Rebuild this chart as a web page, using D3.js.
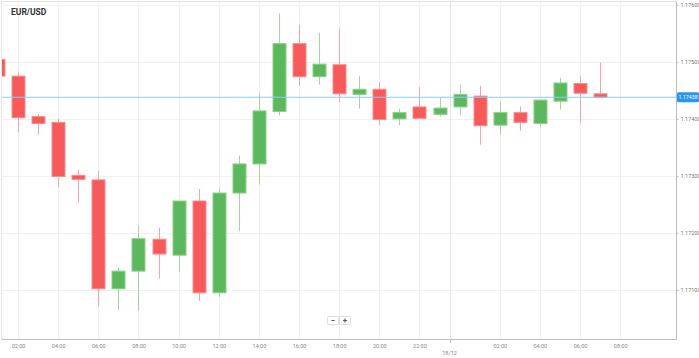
<!DOCTYPE html>
<html>
<head>
<meta charset="utf-8">
<script src="https://cdn.jsdelivr.net/npm/d3@7"></script>
<style>
  html, body { margin: 0; padding: 0; background: #fff; }
  svg { display: block; font-family: Roboto, "Noto Sans", sans-serif; }
</style>
</head>
<body>
<svg id="chart" width="699" height="358"></svg>
<script>
const times = [
  "2017-12-17T01:00Z","2017-12-17T02:00Z","2017-12-17T03:00Z","2017-12-17T04:00Z","2017-12-17T05:00Z",
  "2017-12-17T06:00Z","2017-12-17T07:00Z","2017-12-17T08:00Z","2017-12-17T09:00Z","2017-12-17T10:00Z",
  "2017-12-17T11:00Z","2017-12-17T12:00Z","2017-12-17T13:00Z","2017-12-17T14:00Z","2017-12-17T15:00Z",
  "2017-12-17T16:00Z","2017-12-17T17:00Z","2017-12-17T18:00Z","2017-12-17T19:00Z","2017-12-17T20:00Z",
  "2017-12-17T21:00Z","2017-12-17T22:00Z","2017-12-17T23:00Z","2017-12-18T00:00Z","2017-12-18T01:00Z",
  "2017-12-18T02:00Z","2017-12-18T03:00Z","2017-12-18T04:00Z","2017-12-18T05:00Z","2017-12-18T06:00Z",
  "2017-12-18T07:00Z"
];
const open = [1.17504,1.17475,1.17404,1.17394,1.17301,1.17293,1.17102,1.17133,1.17189,1.17161,
  1.17256,1.17095,1.17270,1.17321,1.17413,1.17532,1.17474,1.17495,1.17443,1.17452,
  1.17400,1.17421,1.17408,1.17421,1.17440,1.17389,1.17411,1.17392,1.17431,1.17462,1.17444];
const high = [1.17506,1.17483,1.17409,1.17400,1.17311,1.17309,1.17139,1.17214,1.17209,1.17256,
  1.17277,1.17279,1.17336,1.17446,1.17585,1.17565,1.17551,1.17558,1.17475,1.17465,
  1.17418,1.17456,1.17437,1.17460,1.17458,1.17430,1.17422,1.17433,1.17472,1.17475,1.17499];
const low = [1.17470,1.17376,1.17372,1.17280,1.17253,1.17070,1.17065,1.17063,1.17120,1.17132,
  1.17081,1.17088,1.17203,1.17285,1.17406,1.17458,1.17460,1.17429,1.17418,1.17389,
  1.17389,1.17401,1.17404,1.17406,1.17355,1.17372,1.17379,1.17385,1.17416,1.17392,1.17438];
const close = [1.17475,1.17402,1.17392,1.17299,1.17294,1.17102,1.17133,1.17190,1.17163,1.17256,
  1.17095,1.17270,1.17321,1.17414,1.17532,1.17474,1.17496,1.17444,1.17452,1.17399,
  1.17411,1.17401,1.17419,1.17443,1.17388,1.17411,1.17394,1.17433,1.17463,1.17445,1.17438];
const yTicks = [1.171, 1.172, 1.173, 1.174, 1.175, 1.176];
const xTicks = ["2017-12-17T02:00Z","2017-12-17T04:00Z","2017-12-17T06:00Z","2017-12-17T08:00Z",
  "2017-12-17T10:00Z","2017-12-17T12:00Z","2017-12-17T14:00Z","2017-12-17T16:00Z","2017-12-17T18:00Z",
  "2017-12-17T20:00Z","2017-12-17T22:00Z","2017-12-18T02:00Z","2017-12-18T04:00Z","2017-12-18T06:00Z",
  "2017-12-18T08:00Z"];
const dateMarker = { time: "2017-12-17T23:30Z", label: "18/12" };
const currentPrice = 1.17438;
const title = "EUR/USD";

const W = 699, H = 358;
const L = 2, R = 676, T = 2, B = 339;
const svg = d3.select("#chart");

const x = d3.scaleUtc()
  .domain([new Date("2017-12-17T01:12Z"), new Date("2017-12-18T10:47Z")])
  .range([L, R]);
const y = d3.scaleLinear().domain([1.17014, 1.17605]).range([B, T]);

const data = times.map((t, i) => ({ t: new Date(t), o: open[i], h: high[i], l: low[i], c: close[i] }));

// frame
svg.append("rect").attr("x", L - 0.5).attr("y", T - 0.5).attr("width", R - L + 1).attr("height", B - T + 1)
  .attr("fill", "#fff").attr("stroke", "#e6e6e6");

// grid
const grid = svg.append("g");
grid.selectAll(".gy").data(yTicks).join("line")
  .attr("x1", L).attr("x2", R)
  .attr("y1", d => Math.round(y(d)) + 0.5).attr("y2", d => Math.round(y(d)) + 0.5)
  .attr("stroke", "#f1f1f1");
grid.selectAll(".gx").data(xTicks).join("line")
  .attr("x1", d => Math.round(x(new Date(d))) + 0.5).attr("x2", d => Math.round(x(new Date(d))) + 0.5)
  .attr("y1", T).attr("y2", B)
  .attr("stroke", "#f1f1f1");
grid.append("line")
  .attr("x1", Math.round(x(new Date(dateMarker.time))) + 0.5)
  .attr("x2", Math.round(x(new Date(dateMarker.time))) + 0.5)
  .attr("y1", T).attr("y2", B).attr("stroke", "#e4e4e4");

// title
svg.append("text").attr("x", 11).attr("y", 15).attr("font-size", 8.5).attr("font-weight", 700)
  .attr("fill", "#333").text(title);

// candles
svg.append("clipPath").attr("id", "clip").append("rect")
  .attr("x", L).attr("y", T).attr("width", R - L).attr("height", B - T);
const cg = svg.append("g").attr("clip-path", "url(#clip)");
const bw = 13;
const up = d => d.c >= d.o;
cg.selectAll(".wick").data(data).join("line")
  .attr("x1", d => Math.round(x(d.t)) + 0.5).attr("x2", d => Math.round(x(d.t)) + 0.5)
  .attr("y1", d => y(d.h)).attr("y2", d => y(d.l))
  .attr("stroke", d => up(d) ? "#a3d89c" : "#faa3a3").attr("stroke-width", 1);
cg.selectAll(".body").data(data).join("rect")
  .attr("x", d => Math.round(x(d.t)) - bw / 2 + 0.5)
  .attr("y", d => y(Math.max(d.o, d.c)))
  .attr("width", bw)
  .attr("height", d => Math.max(1.5, Math.abs(y(d.o) - y(d.c))))
  .attr("fill", d => up(d) ? "#5cb85c" : "#f65a5a")
  .attr("stroke", d => up(d) ? "#8ed08a" : "#fb8c8c").attr("stroke-width", 1);

// current price line
svg.append("line").attr("x1", L).attr("x2", R)
  .attr("y1", y(currentPrice)).attr("y2", y(currentPrice))
  .attr("stroke", "#8ccdf5").attr("stroke-width", 1.2);

// axes lines
svg.append("line").attr("x1", L).attr("x2", R + 0.5).attr("y1", B + 0.5).attr("y2", B + 0.5).attr("stroke", "#bdbdbd");
svg.append("line").attr("x1", R + 0.5).attr("x2", R + 0.5).attr("y1", T).attr("y2", B + 0.5).attr("stroke", "#bdbdbd");

// y axis
const yAxis = d3.axisRight(y).tickValues(yTicks).tickFormat(d3.format(".5f")).tickSize(2).tickPadding(2);
const yg = svg.append("g").attr("transform", `translate(${R + 0.5},0)`).call(yAxis);
yg.select(".domain").remove();
yg.selectAll("line").attr("stroke", "#bbb");
yg.selectAll("text").attr("font-size", 5.5).attr("fill", "#777").attr("font-family", "Roboto, sans-serif");

// current price label
const cpY = y(currentPrice);
svg.append("rect").attr("x", R + 1).attr("y", cpY - 5).attr("width", 22).attr("height", 10)
  .attr("rx", 1.5).attr("fill", "#2a95ee");
svg.append("text").attr("x", R + 2.5).attr("y", cpY + 2).attr("font-size", 5.3).attr("fill", "#fff")
  .text(d3.format(".5f")(currentPrice));

// x axis
const xAxis = d3.axisBottom(x).tickValues(xTicks.map(d => new Date(d)))
  .tickFormat(d3.utcFormat("%H:%M")).tickSize(0).tickPadding(5);
const xg = svg.append("g").attr("transform", `translate(0,${B + 0.5})`).call(xAxis);
xg.select(".domain").remove();
xg.selectAll("text").attr("font-size", 5.5).attr("fill", "#888").attr("font-family", "Roboto, sans-serif");

const dmx = x(new Date(dateMarker.time));
svg.append("line").attr("x1", Math.round(dmx) + 0.5).attr("x2", Math.round(dmx) + 0.5)
  .attr("y1", B).attr("y2", B + 4).attr("stroke", "#bbb");
svg.append("text").attr("x", dmx).attr("y", 355).attr("text-anchor", "middle")
  .attr("font-size", 5.5).attr("fill", "#888").text(dateMarker.label);

// zoom control
const zc = svg.append("g");
[{ cx: 333, s: "−" }, { cx: 345, s: "+" }].forEach(b => {
  zc.append("rect").attr("x", b.cx - 5.5).attr("y", 316.5).attr("width", 11).attr("height", 8)
    .attr("fill", "#fff").attr("stroke", "#ddd").attr("rx", 1);
  zc.append("text").attr("x", b.cx).attr("y", 323.3).attr("text-anchor", "middle")
    .attr("font-size", 8).attr("font-weight", 700).attr("fill", "#555").text(b.s);
});
</script>
</body>
</html>
